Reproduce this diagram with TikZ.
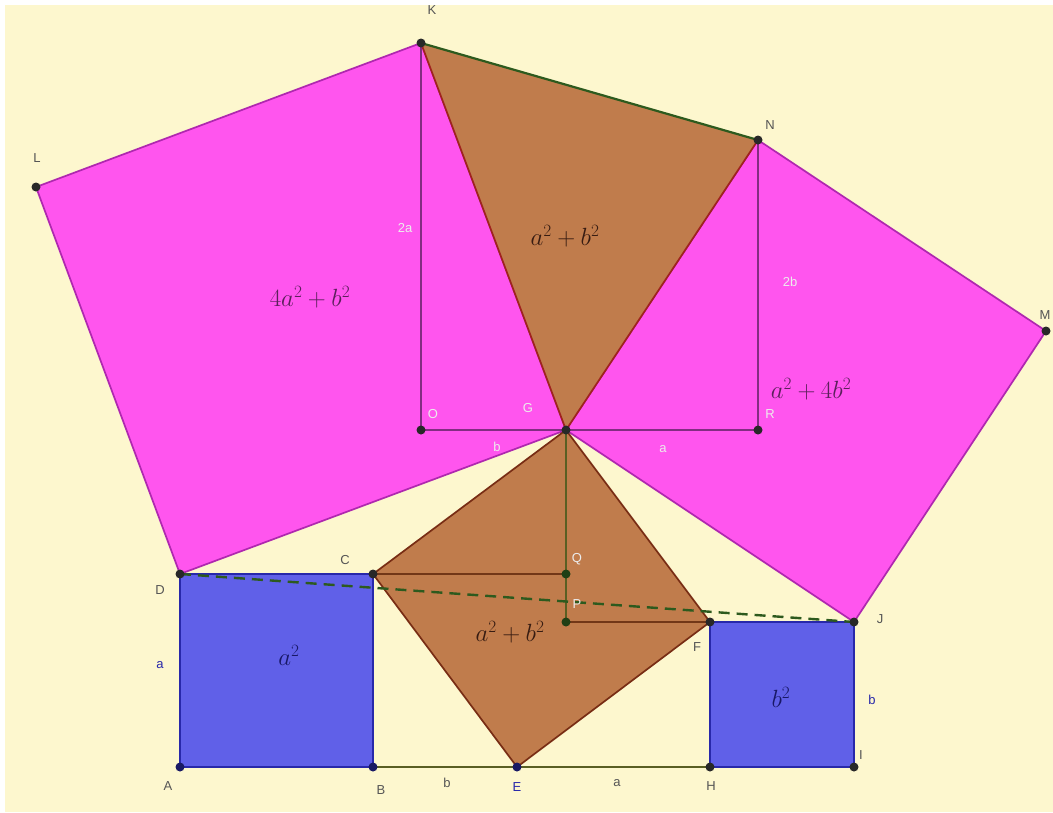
\documentclass[tikz,border=0pt]{standalone}
\usepackage{fontspec}
\setsansfont{Liberation Sans}
\definecolor{bg}{RGB}{253,247,206}
\definecolor{sqblue}{RGB}{96,96,232}
\definecolor{edgeblue}{RGB}{40,40,170}
\definecolor{pinkfill}{RGB}{255,85,238}
\definecolor{pinkedge}{RGB}{175,40,175}
\definecolor{brownfill}{RGB}{192,124,76}
\definecolor{brownedge}{RGB}{120,45,20}
\definecolor{rededge}{RGB}{160,35,30}
\definecolor{olive}{RGB}{90,95,35}
\definecolor{dgreen}{RGB}{45,90,30}
\definecolor{violetline}{RGB}{130,45,130}
\definecolor{ptdark}{RGB}{40,40,40}
\definecolor{ptblue}{RGB}{25,25,100}
\definecolor{lbl}{RGB}{85,85,85}
\definecolor{arealbl}{RGB}{55,28,18}
\tikzset{
  vdot/.style={circle,fill=ptdark,inner sep=0pt,minimum size=9pt},
  bdot/.style={vdot,fill=ptblue},
  gdot/.style={vdot,fill=dgreen!70!black},
  vlab/.style={font=\sffamily\fontsize{13}{13}\selectfont,text=lbl,inner sep=0pt},
  blab/.style={vlab,text=edgeblue},
  wlab/.style={vlab,text=white!85!gray},
  area/.style={font=\fontsize{23}{26}\selectfont,inner sep=0pt},
  thinline/.style={line width=1.7pt},
}
\begin{document}
\begin{tikzpicture}[x=1pt,y=-1pt]
\fill[white] (0,0) rectangle (1053,812);
\fill[bg] (5,5) rectangle (1053,812);
\useasboundingbox (0,0) rectangle (1053,812);
% points
\coordinate (A) at (180,767);
\coordinate (B) at (373,767);
\coordinate (C) at (373,574);
\coordinate (D) at (180,574);
\coordinate (E) at (517,767);
\coordinate (H) at (710,767);
\coordinate (I) at (854,767);
\coordinate (J) at (854,622);
\coordinate (F) at (710,622);
\coordinate (G) at (566,430);
\coordinate (Q) at (566,574);
\coordinate (P) at (566,622);
\coordinate (O) at (421,430);
\coordinate (K) at (421,43);
\coordinate (R) at (758,430);
\coordinate (N) at (758,140);
\coordinate (L) at (36,187);
\coordinate (M) at (1046,331);
% magenta squares
\fill[pinkfill] (D)--(G)--(K)--(L)--cycle;
\draw[pinkedge,thinline] (D)--(G)--(K)--(L)--cycle;
\fill[pinkfill] (G)--(J)--(M)--(N)--cycle;
\draw[pinkedge,thinline] (G)--(J)--(M)--(N)--cycle;
% brown triangle and square
\fill[brownfill] (K)--(G)--(N)--cycle;
\draw[rededge,thinline] (N)--(G)--(K);
\draw[dgreen,line width=2.2pt] (K)--(N);
\fill[brownfill] (C)--(E)--(F)--(G)--cycle;
\draw[brownedge,thinline] (C)--(E)--(F)--(G)--cycle;
% blue squares
\fill[sqblue] (A)--(B)--(C)--(D)--cycle;
\draw[edgeblue,thinline] (A)--(B)--(C)--(D)--cycle;
\fill[sqblue] (H)--(I)--(J)--(F)--cycle;
\draw[edgeblue,thinline] (H)--(I)--(J)--(F)--cycle;
% construction lines
\draw[olive,thinline] (B)--(E)--(H);
\draw[violetline,thinline] (K)--(O)--(G)--(R)--(N);
\draw[olive,thinline] (G)--(Q)--(P);
\draw[brownedge!80!olive,thinline] (C)--(Q);
\draw[brownedge!80!olive,thinline] (P)--(F);
\draw[dgreen,line width=2.4pt,dash pattern=on 11pt off 7pt] (D)--(J);
% dots
\foreach \p in {A,B,E}{\node[bdot] (d\p) at (\p) {};}
\foreach \p in {C,D,F,G,H,I,J,K,L,M,N,O,R}{\node[vdot] (d\p) at (\p) {};}
\foreach \p in {Q,P}{\node[gdot] (d\p) at (\p) {};}
% vertex labels
\node[vlab] (lA) at (168,786) {A};
\node[vlab] (lB) at (381,790) {B};
\node[vlab] (lC) at (345,560) {C};
\node[vlab] (lD) at (160,590) {D};
\node[blab] (lE) at (517,787) {E};
\node[vlab] (lF) at (697,647) {F};
\node[vlab] (lH) at (711,786) {H};
\node[vlab] (lI) at (861,755) {I};
\node[vlab] (lJ) at (880,619) {J};
\node[vlab] (lK) at (432,10) {K};
\node[vlab] (lL) at (37,158) {L};
\node[vlab] (lM) at (1045,315) {M};
\node[vlab] (lN) at (770,125) {N};
\node[wlab] (lO) at (433,414) {O};
\node[wlab] (lG) at (528,408) {G};
\node[wlab] (lR) at (770,414) {R};
\node[wlab] (lQ) at (577,559) {Q};
\node[wlab] (lP) at (577,604) {P};
% side labels
\node[blab] (sa) at (160,665) {a};
\node[blab] (sb) at (872,700) {b};
\node[vlab] (sBE) at (447,783) {b};
\node[vlab] (sEH) at (617,783) {a};
\node[wlab] (s2a) at (405,228) {2a};
\node[wlab] (s2b) at (790,282) {2b};
\node[wlab] (sOG) at (497,447) {b};
\node[wlab] (sGR) at (663,449) {a};
% area labels
\node[area,text=edgeblue!60!black] (t1) at (289,655) {$a^2$};
\node[area,text=edgeblue!60!black] (t2) at (781,697) {$b^2$};
\node[area,text=arealbl] (t3) at (510,632) {$a^2+b^2$};
\node[area,text=arealbl] (t4) at (565,236) {$a^2+b^2$};
\node[area,text=violetline!70!black] (t5) at (310,297) {$4a^2+b^2$};
\node[area,text=violetline!70!black] (t6) at (811,389) {$a^2+4b^2$};
\end{tikzpicture}
\end{document}
